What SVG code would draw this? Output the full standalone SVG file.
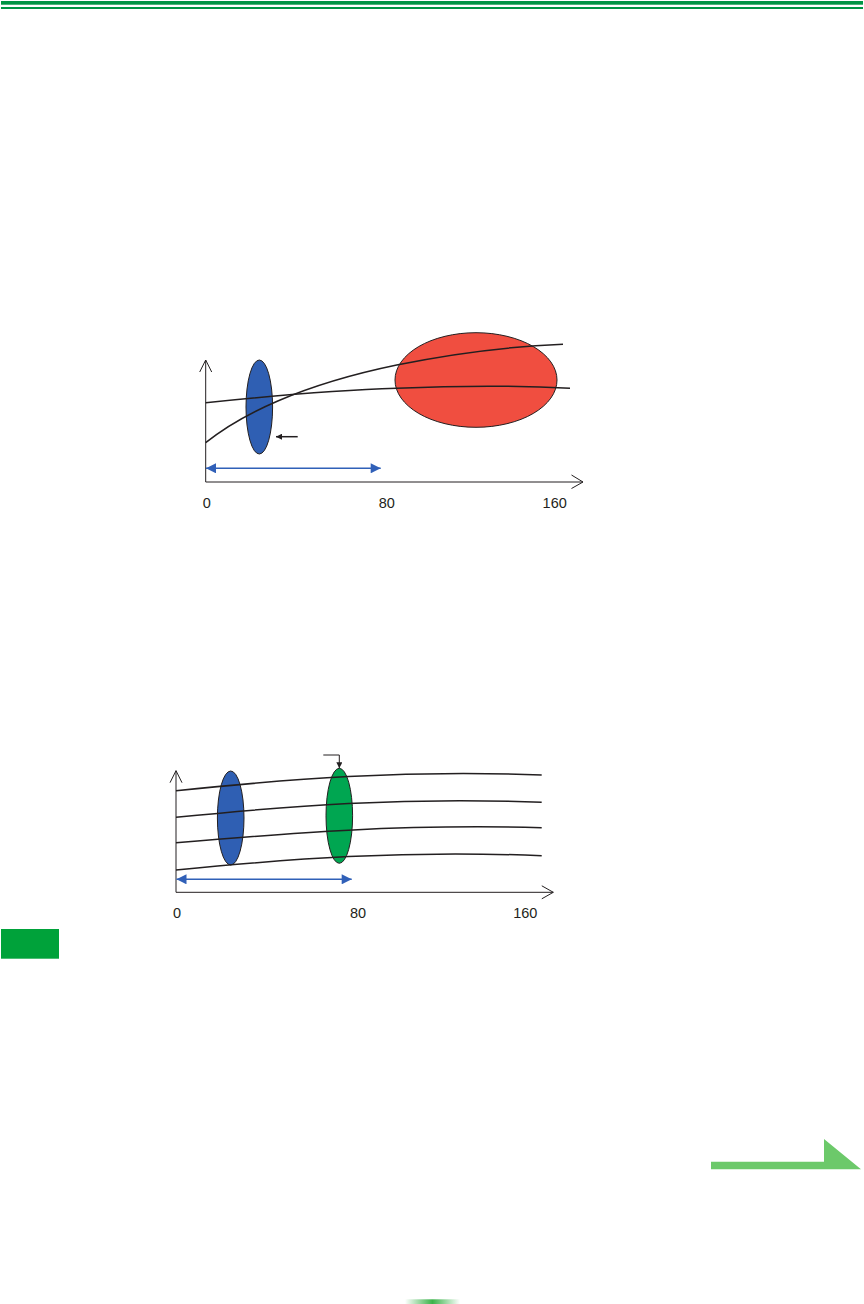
<svg xmlns="http://www.w3.org/2000/svg" width="864" height="1304" viewBox="0 0 864 1304">
<style>
.ax{fill:none;stroke:#231f20;stroke-width:1}
.cv{fill:none;stroke:#231f20;stroke-width:1.5}
.lbl{font-family:"Liberation Sans",Arial,sans-serif;font-size:14.5px;fill:#231f20;text-anchor:middle}
.dbl{fill:none;stroke:#3060b8;stroke-width:1.5}
.ol{stroke:#231f20;stroke-width:1}
</style>
<defs>
<marker id="bh" viewBox="0 0 10 10" refX="10" refY="5" markerWidth="11" markerHeight="10" markerUnits="userSpaceOnUse" orient="auto-start-reverse"><path d="M0,0 L10,5 L0,10 Z" fill="#3060b8"/></marker>
<marker id="kh" viewBox="0 0 10 10" refX="10" refY="5" markerWidth="8" markerHeight="6" markerUnits="userSpaceOnUse" orient="auto"><path d="M0,0 L10,5 L0,10 Z" fill="#231f20"/></marker>
<linearGradient id="gb" x1="0" x2="1" y1="0" y2="0">
<stop offset="0" stop-color="#3bb34a" stop-opacity="0"/>
<stop offset="0.5" stop-color="#3bb34a"/>
<stop offset="1" stop-color="#3bb34a" stop-opacity="0"/>
</linearGradient>
</defs>
<g id="header">
<rect x="1" y="1" width="862" height="3.7" fill="#009444"/>
<rect x="1" y="7" width="862" height="2" fill="#009444"/>
</g>
<g id="chart1">
<path class="ax" d="M205.7,482 V360 M199.7,372 L205.7,360 L211.7,372 M205.7,482 H583 M571.5,475 L583,482 L571.5,488.5"/>
<ellipse id="red-ellipse" cx="476" cy="380" rx="81" ry="47.3" fill="#f04e40" class="ol"/>
<ellipse id="blue-ellipse-1" cx="259.3" cy="407" rx="13.3" ry="47" fill="#2f5fb3" class="ol"/>
<path class="cv" d="M205.7,442.7 C240,415 300,385 396.7,365 C460,352 520,346 563,344.3"/>
<path class="cv" d="M205.7,402.7 C280,395 340,390 396.7,388.3 C460,385.5 520,385.5 570,388.3"/>
<text class="lbl" x="206.7" y="508">0</text>
<text class="lbl" x="386.7" y="508">80</text>
<text class="lbl" x="554.7" y="508">160</text>
</g>
<g id="chart2">
<path class="ax" d="M176,892.3 V770.7 M170,782.7 L176,770.7 L182,782.7 M176,892.3 H553.3 M541.8,885.8 L553.3,892.3 L541.8,898.8"/>
<ellipse id="blue-ellipse-2" cx="230.7" cy="818" rx="13.3" ry="47" fill="#2f5fb3" class="ol"/>
<ellipse id="green-ellipse" cx="339.3" cy="815.8" rx="13.3" ry="47.5" fill="#00a651" class="ol"/>
<path class="cv" d="M176,790.7 C290,779 400,770 541.7,775"/>
<path class="cv" d="M176,817.3 C290,806 400,797 541.7,802.3"/>
<path class="cv" d="M176,842.7 C290,833 400,824 541.7,827.7"/>
<path class="cv" d="M176,870 C290,859 400,850 541.7,855.7"/>
<text class="lbl" x="177" y="918.3">0</text>
<text class="lbl" x="358" y="918.3">80</text>
<text class="lbl" x="525.3" y="918.3">160</text>
</g>
<g id="connectors">
<line class="dbl" x1="206" y1="468.3" x2="380.7" y2="468.3" marker-start="url(#bh)" marker-end="url(#bh)"/>
<line class="dbl" x1="176.5" y1="879.3" x2="351.7" y2="879.3" marker-start="url(#bh)" marker-end="url(#bh)"/>
<line x1="297.7" y1="436.7" x2="276" y2="436.7" stroke="#231f20" stroke-width="1.5" marker-end="url(#kh)"/>
<path d="M323.3,755 H339.3 V768.3" fill="none" stroke="#231f20" stroke-width="1" marker-end="url(#kh)"/>
</g>
<g id="green-tab">
<rect x="1" y="929" width="58" height="29.7" fill="#00a23a"/>
</g>
<g id="next-arrow">
<path d="M711,1161.7 H824 V1139 L861,1169.3 H711 Z" fill="#6cc96a"/>
</g>
<g id="footer">
<rect x="405" y="1299.3" width="55" height="4.7" fill="url(#gb)"/>
</g>
</svg>
